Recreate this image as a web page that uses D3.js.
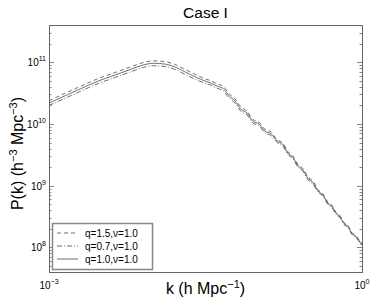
<!DOCTYPE html>
<html>
<head>
<meta charset="utf-8">
<script src="https://cdn.jsdelivr.net/npm/d3@7"></script>
<style>
  body { margin: 0; background: #fff; }
  text { font-family: "Liberation Sans", Arial, Helvetica, sans-serif; fill: #000; }
</style>
</head>
<body>
<div id="chart"></div>
<script>
// wavenumbers k (h/Mpc)
var kValues = [0.001, 0.0015, 0.002, 0.003, 0.004, 0.006, 0.008, 0.01, 0.013, 0.016, 0.02, 0.026,
    0.0313, 0.0357, 0.0408, 0.0465, 0.0531, 0.0607, 0.0692, 0.0790, 0.0902, 0.1030, 0.1176, 0.1342,
    0.1532, 0.1749, 0.1953, 0.2182, 0.2435, 0.2720, 0.3038, 0.3392, 0.3788, 0.4229, 0.4722, 0.5160,
    0.5636, 0.6155, 0.6723, 0.7343, 0.8023, 0.8762, 1.0];

// q=1.5, nu=1.0 (dashed)
var pDashed = [2.38e10, 3.26e10, 4.06e10, 5.47e10, 6.51e10, 8.33e10, 9.86e10, 1.052e11, 1.019e11, 9.21e10, 7.67e10, 6.19e10,
    5.38e10, 4.99e10, 4.45e10, 4.09e10, 3.10e10, 2.55e10, 1.87e10, 1.61e10, 1.18e10, 1.07e10, 8.16e9, 7.44e9,
    5.59e9, 4.85e9, 3.54e9, 3.02e9, 2.22e9, 1.89e9, 1.38e9, 1.18e9, 8.61e8, 7.34e8, 5.38e8, 4.82e8,
    3.71e8, 3.27e8, 2.52e8, 2.26e8, 1.74e8, 1.54e8, 1.13e8];

// q=0.7, nu=1.0 (dash-dot)
var pDashDot = [1.98e10, 2.71e10, 3.37e10, 4.55e10, 5.42e10, 6.93e10, 8.21e10, 8.76e10, 8.48e10, 7.66e10, 6.38e10, 5.15e10,
    4.57e10, 4.24e10, 3.78e10, 3.48e10, 2.64e10, 2.17e10, 1.59e10, 1.40e10, 1.03e10, 9.35e9, 7.13e9, 6.50e9,
    5.02e9, 4.36e9, 3.19e9, 2.71e9, 1.99e9, 1.70e9, 1.24e9, 1.06e9, 7.89e8, 6.72e8, 4.93e8, 4.41e8,
    3.40e8, 3.05e8, 2.35e8, 2.11e8, 1.62e8, 1.44e8, 1.05e8];

// q=1.0, nu=1.0 (solid)
var pSolid = [2.17e10, 2.97e10, 3.70e10, 4.99e10, 5.94e10, 7.6e10, 9.0e10, 9.6e10, 9.3e10, 8.4e10, 7.0e10, 5.65e10,
    4.96e10, 4.60e10, 4.10e10, 3.77e10, 2.86e10, 2.35e10, 1.72e10, 1.50e10, 1.10e10, 1.00e10, 7.63e9, 6.95e9,
    5.30e9, 4.60e9, 3.36e9, 2.86e9, 2.10e9, 1.79e9, 1.31e9, 1.12e9, 8.24e8, 7.02e8, 5.15e8, 4.61e8,
    3.55e8, 3.16e8, 2.43e8, 2.18e8, 1.68e8, 1.49e8, 1.09e8];

var seriesNames = ["q=1.5,\u03bd=1.0", "q=0.7,\u03bd=1.0", "q=1.0,\u03bd=1.0"];
var seriesDash = ["4,3", "5,2,1,2", null];

var xTicks = [1e-3, 1];
var xTickExp = ["\u22123", "0"];
var yTicks = [1e8, 1e9, 1e10, 1e11];
var yTickExp = ["8", "9", "10", "11"];

function init() {
    var width = 374, height = 298;
    var margin = {left: 49, right: 12, top: 25, bottom: 26};
    var iw = width - margin.left - margin.right;
    var ih = height - margin.top - margin.bottom;

    var svg = d3.select("#chart").append("svg")
        .attr("width", width)
        .attr("height", height);

    var x = d3.scaleLog().domain([1e-3, 1]).range([margin.left, margin.left + iw]);
    var y = d3.scaleLog().domain([4e7, 4e11]).range([margin.top + ih, margin.top]);

    var axisColor = "#666";
    var lineColor = "#4a4a4a";

    // y ticks, major and minor, on both sides (pointing inward)
    var minor = y.ticks().filter(function (v) { return yTicks.indexOf(v) < 0; });
    var tickG = svg.append("g").attr("stroke", axisColor).attr("stroke-width", 0.8);
    [[minor, 2.5], [yTicks, 5]].forEach(function (set) {
        set[0].forEach(function (v) {
            var yy = Math.round(y(v)) + 0.5;
            tickG.append("line").attr("x1", x(1e-3)).attr("x2", x(1e-3) + set[1]).attr("y1", yy).attr("y2", yy);
            tickG.append("line").attr("x1", x(1)).attr("x2", x(1) - set[1]).attr("y1", yy).attr("y2", yy);
        });
    });

    // curves
    var series = [pDashed, pDashDot, pSolid];
    var line = d3.line()
        .x(function (d) { return x(d[0]); })
        .y(function (d) { return y(d[1]); })
        .curve(d3.curveMonotoneX);

    series.forEach(function (vals, i) {
        var pts = kValues.map(function (k, j) { return [k, vals[j]]; });
        svg.append("path")
            .attr("d", line(pts))
            .attr("fill", "none")
            .attr("stroke", lineColor)
            .attr("stroke-width", 0.8)
            .attr("stroke-dasharray", seriesDash[i]);
    });

    // axes box
    svg.append("rect")
        .attr("x", margin.left + 0.5).attr("y", margin.top + 0.5)
        .attr("width", iw).attr("height", ih)
        .attr("fill", "none").attr("stroke", axisColor).attr("stroke-width", 1);

    // y tick labels
    yTicks.forEach(function (v, i) {
        var t = svg.append("text")
            .attr("x", margin.left - 3)
            .attr("y", y(v) + 4)
            .attr("text-anchor", "end")
            .style("font-size", "10px");
        t.append("tspan").text("10");
        t.append("tspan").attr("dy", -5).style("font-size", "7px").text(yTickExp[i]);
    });

    // x tick labels
    xTicks.forEach(function (v, i) {
        var t = svg.append("text")
            .attr("x", x(v))
            .attr("y", height - 9)
            .attr("text-anchor", "middle")
            .style("font-size", "10px");
        t.append("tspan").text("10");
        t.append("tspan").attr("dy", -5).style("font-size", "7px").text(xTickExp[i]);
    });

    // legend
    var lg = svg.append("g");
    lg.append("rect")
        .attr("x", 52.5).attr("y", 223.5).attr("width", 100).attr("height", 46)
        .attr("fill", "#fff").attr("stroke", "#888").attr("stroke-width", 1.5);
    seriesNames.forEach(function (name, i) {
        var yy = 233 + i * 13;
        lg.append("line")
            .attr("x1", 57).attr("x2", 78).attr("y1", yy).attr("y2", yy)
            .attr("stroke", lineColor).attr("stroke-width", 0.8)
            .attr("stroke-dasharray", seriesDash[i]);
        lg.append("text")
            .attr("x", 85).attr("y", yy + 3.5)
            .style("font-size", "10px")
            .text(name);
    });

    // title
    svg.append("text")
        .attr("x", margin.left + iw / 2).attr("y", 18)
        .attr("text-anchor", "middle")
        .style("font-size", "15.5px")
        .text("Case I");

    // x label
    var xl = svg.append("text")
        .attr("x", margin.left + iw / 2).attr("y", height - 4)
        .attr("text-anchor", "middle")
        .style("font-size", "16px");
    xl.append("tspan").text("k (h Mpc");
    xl.append("tspan").attr("dy", -6).style("font-size", "11px").text("\u22121");
    xl.append("tspan").attr("dy", 6).text(")");

    // y label
    var yl = svg.append("text")
        .attr("transform", "translate(23," + (margin.top + ih / 2 + 5) + ") rotate(-90)")
        .attr("text-anchor", "middle")
        .style("font-size", "16px");
    yl.append("tspan").text("P(k) (h");
    yl.append("tspan").attr("dy", -6).style("font-size", "11px").text("\u22123");
    yl.append("tspan").attr("dy", 6).text(" Mpc");
    yl.append("tspan").attr("dy", -6).style("font-size", "11px").text("\u22123");
    yl.append("tspan").attr("dy", 6).text(")");
}

window.onload = init;
</script>
</body>
</html>
